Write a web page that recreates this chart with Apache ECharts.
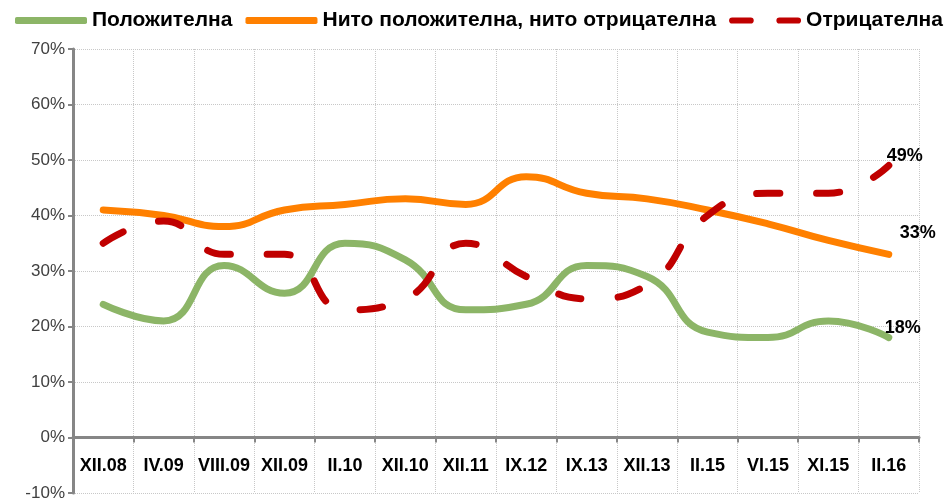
<!DOCTYPE html>
<html>
<head>
<meta charset="utf-8">
<script src="https://cdn.jsdelivr.net/npm/echarts@6/dist/echarts.min.js"></script>
<style>
  html, body { margin: 0; padding: 0; background: #fff; }
  #chart { width: 945px; height: 503px; }
</style>
</head>
<body>
<div id="chart"></div>
<script>
const periods = ['XII.08', 'IV.09', 'VIII.09', 'XII.09', 'II.10', 'XII.10', 'XII.11',
  'IX.12', 'IX.13', 'XII.13', 'II.15', 'VI.15', 'XI.15', 'II.16'];
const positive = [24, 21, 31, 26, 35, 32, 23, 24, 31, 29, 19, 18, 21, 18];
const neutral = [41, 40, 38, 41, 42, 43, 42, 47, 44, 43, 41, 38.5, 35.5, 33];
const negative = [35, 39, 33, 33, 23, 25, 35, 29, 25, 27.5, 40, 44, 44, 49];
const seriesNames = ['Положителна', 'Нито положителна, нито отрицателна', 'Отрицателна'];

const chart = echarts.init(document.getElementById('chart'));

const font = 'Liberation Sans, Arial, sans-serif';

function endLabel(offset) {
  return {
    show: true,
    offset: offset,
    formatter: function (p) { return p.value + '%'; },
    fontFamily: font,
    fontWeight: 'bold',
    fontSize: 18,
    color: '#000'
  };
}

const option = {
  animation: false,
  textStyle: { fontFamily: font },
  legend: {
    top: 5,
    left: 10,
    width: 1100,
    itemGap: 13,
    itemWidth: 72,
    itemHeight: 7,
    textStyle: { fontSize: 21, fontWeight: 'bold', color: '#000', fontFamily: font },
    data: [
      { name: seriesNames[0], icon: 'roundRect' },
      { name: seriesNames[1], icon: 'roundRect' },
      { name: seriesNames[2], icon: 'path://M3,0H21A3,3 0 0 1 21,6H3A3,3 0 0 1 3,0Z M49,0H67A3,3 0 0 1 67,6H49A3,3 0 0 1 49,0Z' }
    ]
  },
  grid: { left: 73, right: 26, top: 49, bottom: 10, outerBoundsMode: 'none' },
  xAxis: {
    type: 'category',
    data: periods,
    boundaryGap: true,
    axisLine: { onZero: true, lineStyle: { color: '#868686', width: 3 } },
    axisTick: { show: true, interval: 0, length: 5, lineStyle: { color: '#868686', width: 2 } },
    axisLabel: { interval: 0, fontSize: 18, fontWeight: 'bold', color: '#000', margin: -36, fontFamily: font },
    splitLine: { show: true, interval: 0, lineStyle: { color: '#c8c8c8', type: 'dotted' } }
  },
  yAxis: {
    type: 'value',
    min: -10,
    max: 70,
    interval: 10,
    axisLine: { show: true, lineStyle: { color: '#868686', width: 3 } },
    axisTick: { show: true, length: 5, lineStyle: { color: '#868686', width: 2 } },
    axisLabel: { formatter: '{value}%', fontSize: 17, color: '#404040', margin: 8, fontFamily: font },
    splitLine: { show: true, lineStyle: { color: '#c8c8c8', type: 'dotted' } }
  },
  series: [
    {
      name: seriesNames[0],
      type: 'line',
      smooth: 0.5,
      symbol: 'none',
      color: '#8cb567',
      lineStyle: { width: 7, color: '#8cb567', cap: 'round' },
      endLabel: endLabel([-12, -10]),
      data: positive
    },
    {
      name: seriesNames[1],
      type: 'line',
      smooth: 0.5,
      symbol: 'none',
      color: '#ff8000',
      lineStyle: { width: 7, color: '#ff8000', cap: 'round' },
      endLabel: endLabel([3, -21]),
      data: neutral
    },
    {
      name: seriesNames[2],
      type: 'line',
      smooth: 0.5,
      symbol: 'none',
      color: '#c00000',
      lineStyle: { width: 7, color: '#c00000', type: [23, 37], cap: 'round' },
      endLabel: endLabel([-10, -10]),
      data: negative
    }
  ]
};

chart.setOption(option);
</script>
</body>
</html>
